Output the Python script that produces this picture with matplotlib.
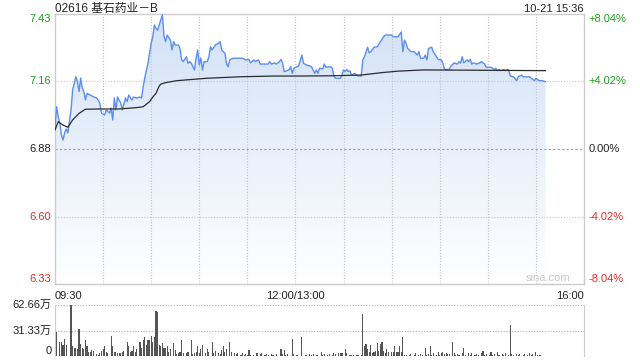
import matplotlib
matplotlib.use("Agg")
import matplotlib.pyplot as plt
import numpy as np
from matplotlib.patches import Polygon

plt.rcParams['font.family'] = ['Liberation Sans', 'Noto Sans CJK SC', 'DejaVu Sans']

# ---- data (minutes after 09:30, lunch break removed) ----
price_t = [0, 1, 2, 3, 4, 5, 6, 7, 8, 10, 11, 13, 14, 15, 16, 17, 18, 19, 20, 22, 24, 26, 28, 29,
           31, 32, 34, 35, 36, 37, 38, 39, 41, 42, 44, 45, 46, 48, 49, 51, 53, 54, 55, 56, 58, 59,
           60, 61, 62, 63, 64, 65, 66, 67, 68, 69, 70, 72, 73, 74, 75, 77, 78, 79, 80, 82, 83, 84,
           85, 87, 88, 89, 90, 91, 92, 93, 95, 96, 97, 98, 100, 102, 103, 104, 106, 107, 108, 109,
           111, 114, 117, 119, 121, 122, 124, 125, 127, 128, 133, 134, 135, 137, 138, 140, 141,
           142, 143, 146, 147, 148, 149, 151, 152, 154, 155, 157, 159, 160, 162, 163, 164, 165,
           167, 168, 169, 171, 172, 173, 174, 175, 178, 179, 180, 181, 182, 183, 184, 185, 187,
           189, 191, 192, 193, 195, 196, 197, 199, 201, 203, 205, 206, 210, 211, 214, 216, 217,
           218, 219, 220, 222, 224, 226, 227, 228, 230, 231, 232, 233, 235, 236, 238, 239, 241,
           242, 243, 246, 247, 249, 251, 252, 253, 254, 255, 257, 258, 259, 260, 261, 263, 265,
           266, 267, 268, 269, 272, 274, 275, 276, 277, 278, 280, 281, 282, 283, 284, 286, 288,
           289, 291, 292, 296, 298, 299, 300, 302, 304, 306]
price = [6.965, 7.053, 7.012, 6.986, 6.937, 6.917, 6.946, 6.962, 6.946, 7.040, 7.122, 7.176,
         7.156, 7.115, 7.171, 7.130, 7.115, 7.081, 7.108, 7.101, 7.094, 7.089, 7.068, 7.027,
         7.019, 7.040, 7.027, 7.048, 6.999, 7.089, 7.040, 7.093, 7.068, 7.040, 7.089, 7.074,
         7.101, 7.081, 7.093, 7.089, 7.093, 7.089, 7.135, 7.171, 7.232, 7.273, 7.314, 7.340,
         7.388, 7.374, 7.367, 7.388, 7.408, 7.430, 7.340, 7.320, 7.347, 7.326, 7.286, 7.320,
         7.306, 7.306, 7.292, 7.245, 7.238, 7.258, 7.231, 7.238, 7.232, 7.204, 7.252, 7.286,
         7.224, 7.253, 7.204, 7.238, 7.238, 7.258, 7.299, 7.286, 7.306, 7.313, 7.320, 7.286,
         7.272, 7.231, 7.217, 7.245, 7.252, 7.252, 7.252, 7.245, 7.247, 7.233, 7.245, 7.238,
         7.245, 7.228, 7.228, 7.238, 7.228, 7.233, 7.228, 7.238, 7.247, 7.231, 7.197, 7.204,
         7.217, 7.190, 7.211, 7.217, 7.220, 7.265, 7.231, 7.224, 7.220, 7.217, 7.190, 7.204,
         7.190, 7.211, 7.208, 7.228, 7.215, 7.217, 7.217, 7.211, 7.179, 7.170, 7.170, 7.183,
         7.204, 7.197, 7.206, 7.197, 7.200, 7.183, 7.190, 7.179, 7.179, 7.245, 7.258, 7.297,
         7.274, 7.278, 7.297, 7.299, 7.320, 7.340, 7.347, 7.347, 7.340, 7.340, 7.360, 7.279,
         7.326, 7.313, 7.292, 7.279, 7.279, 7.265, 7.279, 7.252, 7.252, 7.265, 7.245, 7.292,
         7.297, 7.279, 7.258, 7.247, 7.245, 7.231, 7.206, 7.206, 7.220, 7.233, 7.228, 7.238,
         7.232, 7.258, 7.233, 7.245, 7.238, 7.247, 7.228, 7.233, 7.228, 7.233, 7.238, 7.233,
         7.228, 7.215, 7.215, 7.206, 7.210, 7.201, 7.206, 7.201, 7.206, 7.201, 7.206, 7.204,
         7.179, 7.176, 7.160, 7.176, 7.183, 7.176, 7.176, 7.165, 7.160, 7.169, 7.160, 7.160,
         7.156]

avg_t = [0, 2, 5, 8, 11, 15, 19, 29, 40, 50, 55, 59, 61, 63, 65, 66, 69, 76, 95, 116, 137,
         153, 172, 191, 204, 214, 230, 306]
avg_p = [6.958, 6.992, 6.978, 6.969, 6.999, 7.026, 7.043, 7.044, 7.044, 7.049, 7.053, 7.074,
         7.093, 7.108, 7.138, 7.146, 7.152, 7.160, 7.170, 7.176, 7.179, 7.179, 7.180, 7.183,
         7.193, 7.199, 7.204, 7.201]

vol_t = [1, 3, 4, 5, 6, 7, 10, 11, 12, 13, 14, 15, 16, 17, 18, 19, 20, 21, 22, 23, 24, 26, 27,
         28, 29, 30, 31, 32, 33, 35, 36, 37, 38, 39, 40, 41, 42, 43, 45, 46, 47, 48, 49, 50, 51,
         53, 54, 55, 56, 57, 58, 59, 60, 61, 62, 63, 64, 65, 66, 67, 68, 69, 70, 71, 72, 74, 75,
         76, 77, 78, 79, 80, 82, 83, 85, 86, 87, 88, 89, 90, 91, 92, 94, 95, 96, 98, 99, 100,
         102, 103, 104, 105, 106, 107, 109, 110, 112, 113, 114, 116, 117, 118, 119, 120, 121,
         122, 124, 126, 128, 129, 131, 132, 133, 135, 136, 138, 141, 142, 143, 144, 145, 148,
         149, 151, 154, 156, 157, 159, 160, 161, 163, 164, 166, 167, 168, 170, 171, 173, 174,
         175, 177, 178, 179, 181, 182, 184, 185, 186, 188, 189, 191, 192, 193, 194, 195, 196,
         197, 198, 199, 200, 201, 202, 203, 204, 205, 206, 207, 208, 210, 211, 212, 213, 214,
         215, 216, 217, 218, 219, 221, 222, 224, 225, 227, 228, 229, 231, 232, 233, 234, 235,
         236, 238, 239, 240, 241, 242, 243, 244, 245, 246, 248, 249, 250, 251, 252, 254, 255,
         256, 258, 259, 260, 262, 263, 264, 266, 267, 268, 269, 271, 272, 273, 274, 276, 277,
         279, 280, 281, 283, 284, 285, 286, 288, 289, 290, 292, 293, 295, 296, 297, 298, 300,
         301, 302, 303]
vol_v = [30, 16.7, 16.7, 13.4, 20.9, 13.4, 62.66, 12.5, 10.4, 9.6, 9.2, 33.4, 14.6, 10.4, 8.4,
         20, 11.7, 5, 5, 7.5, 6.3, 2, 1.7, 3.3, 6.3, 8.4, 11.7, 5, 3.3, 25, 11.7, 5, 5, 3.3, 4.2,
         3.3, 5, 6.3, 17.5, 11.7, 5, 6.3, 12.5, 5, 8.4, 16.7, 10.4, 20, 23, 13.4, 20, 20, 24.2,
         16.7, 23, 55.1, 54.3, 13.4, 11.7, 15.9, 10.4, 10.4, 12.5, 5, 8.4, 15.9, 7.5, 2, 3.3, 5,
         20, 3.3, 4.2, 5, 20, 2, 4.2, 5, 12.5, 3.3, 8.4, 13.4, 3.3, 8.4, 5, 16.7, 3.3, 6.3, 4.2,
         2, 7.5, 12.5, 5, 9.2, 16.7, 5, 3.3, 2, 3.3, 1.7, 3.3, 1.7, 2, 1.7, 7.5, 1, 1.7, 3.3, 2,
         3.3, 1.7, 2.5, 1.7, 2.5, 1.7, 2.5, 8.4, 2, 7.5, 1.7, 2, 20.9, 2, 1.7, 23, 1.7, 0.8, 2.1,
         0.8, 2.5, 1.7, 1.7, 5, 1.7, 2.5, 1.7, 2.1, 1.7, 3.3, 2.1, 4.2, 3.3, 4.2, 9.2, 3.3, 1.7,
         0.8, 1.7, 0.8, 1.7, 0.8, 51.4, 11.7, 14.6, 9.2, 5, 13.4, 3.3, 5, 6.3, 15.9, 6.3, 14.6,
         17.5, 6.3, 3.3, 9.2, 5, 5, 5, 11.7, 5, 5, 11.7, 5, 23, 1.7, 0.8, 1.7, 2.5, 1.7, 3.3,
         1.7, 2.5, 1.7, 10.4, 1.7, 2.5, 11.7, 1.7, 4.2, 1.7, 5, 1.7, 3.3, 5, 2.5, 3.3, 2.1, 2.5,
         16.7, 3.3, 1.7, 2.5, 1.7, 3.3, 10.4, 1.7, 3.3, 1.7, 3.3, 1.7, 2.5, 1.7, 3.3, 6.3, 1.7,
         2.5, 1.7, 5, 1.7, 2.5, 5, 1.7, 2.5, 1.7, 3.3, 1.7, 37.6, 2.5, 1.7, 2.5, 1.7, 2.5, 1.7,
         2.5, 1.7, 3.3, 1.7, 2.1, 5, 1.7, 1.7, 0.8]

prev_close = 6.88
price_ticks = [7.43, 7.16, 6.88, 6.60, 6.33]
pct_labels = ["+8.04%", "+4.02%", "0.00%", "-4.02%", "-8.04%"]
vol_ticks = [62.66, 31.33, 0]
vol_labels = ["62.66万", "31.33万", "0"]
title = "02616 基石药业－B"
stamp = "10-21 15:36"

GREEN = "#1f9e1f"
RED = "#ee2a2a"
DARK = "#222222"
label_colors = [GREEN, GREEN, DARK, RED, RED]

ymin, ymax = prev_close * (1 - 0.0804), prev_close * (1 + 0.0804)
t_end = 330

fig = plt.figure(figsize=(6.4, 3.6), dpi=100)
ax = fig.add_axes([55 / 640, 76 / 360, 529 / 640, 270 / 360])
vax = fig.add_axes([55 / 640, 4 / 360, 529 / 640, 51 / 360])

# ---- price panel ----
ax.set_xlim(0, t_end)
ax.set_ylim(ymin, ymax)
ax.set_xticks([])
ax.set_yticks([])
for s in ax.spines.values():
    s.set_color("#cccccc")
    s.set_linewidth(1)

# gradient fill under the price line
verts = list(zip(price_t, price)) + [(price_t[-1], ymin), (price_t[0], ymin)]
clip = Polygon(verts, closed=True, facecolor="none", edgecolor="none")
ax.add_patch(clip)
top_c = np.array([210, 225, 247]) / 255
bot_c = np.array([255, 255, 255]) / 255
g = np.linspace(0, 1, 256)[:, None]
grad = bot_c[None, :] * (1 - g) + top_c[None, :] * g
grad = np.repeat(grad[:, None, :], 2, axis=1)
im = ax.imshow(grad, extent=[0, price_t[-1], ymin, ymax], origin="lower",
               aspect="auto", zorder=1, interpolation="bilinear")
im.set_clip_path(clip)

for x in range(30, t_end, 30):
    ax.axvline(x, color="#c4c4c4", lw=0.8, ls=(0, (1, 1.5)), zorder=2)
for yv in [7.16, 6.60]:
    ax.axhline(yv, color="#c4c4c4", lw=0.8, ls=(0, (1, 1.5)), zorder=2)
ax.axhline(prev_close, color="#9a9a9a", lw=0.8, ls=(0, (2, 2)), zorder=2)

ax.plot(price_t, price, color="#5b8eef", lw=1.0, zorder=4)
ax.plot(avg_t, avg_p, color="#2b2b2b", lw=0.9, zorder=5)

ytr = ax.get_yaxis_transform()
for i, (v, pl, c) in enumerate(zip(price_ticks, pct_labels, label_colors)):
    va = "center"
    yy = v
    if i == 0:
        yy, va = ymax, "top"
    elif i == len(price_ticks) - 1:
        yy, va = ymin, "bottom"
    ax.text(-0.007, yy, f"{v:.2f}", color=c, ha="right", va=va, fontsize=8, transform=ytr)
    ax.text(1.009, yy, pl, color=c, ha="left", va=va, fontsize=8, transform=ytr)

ax.text(0, 1.008, title, transform=ax.transAxes, ha="left", va="baseline",
        fontsize=8.5, color=DARK)
ax.text(1, 1.008, stamp, transform=ax.transAxes, ha="right", va="baseline",
        fontsize=8, color=DARK)
ax.text(0, -0.025, "09:30", transform=ax.transAxes, ha="left", va="top", fontsize=8, color=DARK)
ax.text(150 / t_end, -0.025, "12:00/13:00", transform=ax.transAxes, ha="center", va="top",
        fontsize=8, color=DARK)
ax.text(1, -0.025, "16:00", transform=ax.transAxes, ha="right", va="top", fontsize=8, color=DARK)
ax.text(0.975, 0.005, "sina.com", transform=ax.transAxes, ha="right", va="bottom",
        fontsize=8, color="#c8c8c8")

# ---- volume panel ----
vax.set_xlim(0, t_end)
vax.set_ylim(0, 62.66)
vax.set_xticks([])
vax.set_yticks([])
for k in ["top", "bottom"]:
    vax.spines[k].set_visible(False)
for k in ["left", "right"]:
    vax.spines[k].set_color("#cccccc")
vax.bar(vol_t, vol_v, width=0.7, color="#555555", zorder=3)
for yv in [62.66, 31.33]:
    vax.axhline(yv, color="#bbbbbb", lw=0.9, ls=(0, (1, 1.2)), zorder=2)
vtr = vax.get_yaxis_transform()
for v, lab in zip(vol_ticks, vol_labels):
    vax.text(-0.007, v, lab, ha="right", va="bottom" if v == 0 else "center",
             fontsize=8, color=DARK, transform=vtr)

fig.savefig("out.png", dpi=100)
